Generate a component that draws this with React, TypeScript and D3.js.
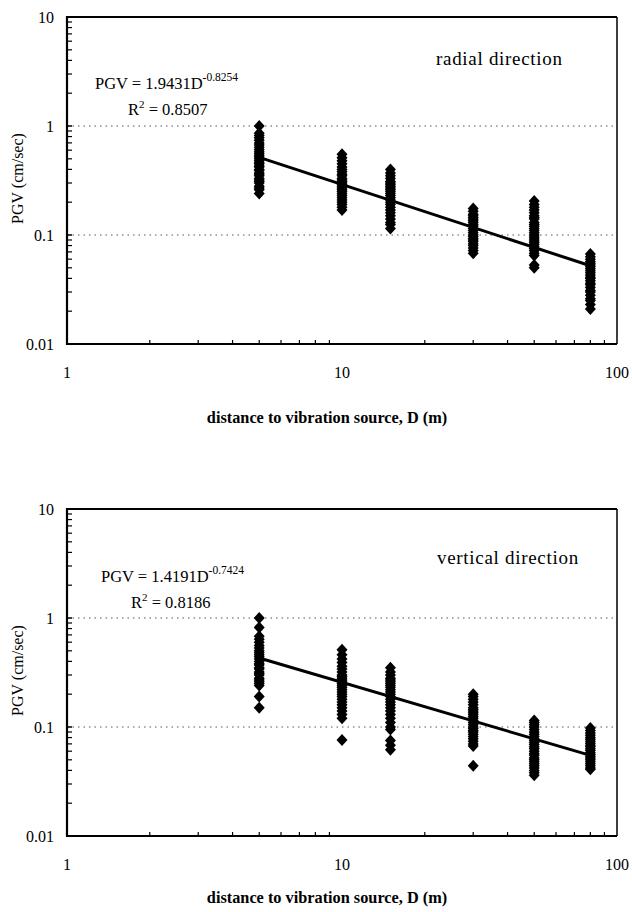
import React from "react";
import * as d3 from "d3";

// ---------- data ----------
const distances = [5, 10, 15, 30, 50, 80];

const radial5 = [1.0, 0.86, 0.82, 0.78, 0.74, 0.7, 0.67, 0.64, 0.61, 0.58, 0.56, 0.54, 0.52, 0.5, 0.48, 0.46, 0.45, 0.43, 0.42, 0.4, 0.39, 0.37, 0.36, 0.35, 0.33, 0.32, 0.31, 0.3, 0.28, 0.27, 0.26, 0.24];
const radial10 = [0.55, 0.51, 0.48, 0.45, 0.42, 0.4, 0.38, 0.36, 0.35, 0.33, 0.32, 0.31, 0.3, 0.29, 0.28, 0.27, 0.26, 0.25, 0.24, 0.23, 0.22, 0.21, 0.2, 0.19, 0.18, 0.17];
const radial15 = [0.4, 0.37, 0.35, 0.33, 0.31, 0.3, 0.29, 0.28, 0.27, 0.26, 0.25, 0.24, 0.23, 0.22, 0.21, 0.2, 0.19, 0.18, 0.17, 0.16, 0.15, 0.14, 0.13, 0.125, 0.115];
const radial30 = [0.175, 0.165, 0.155, 0.15, 0.145, 0.14, 0.135, 0.13, 0.125, 0.12, 0.115, 0.11, 0.105, 0.1, 0.097, 0.093, 0.09, 0.087, 0.083, 0.08, 0.076, 0.072, 0.068];
const radial50 = [0.205, 0.19, 0.18, 0.17, 0.16, 0.15, 0.145, 0.14, 0.13, 0.125, 0.12, 0.115, 0.11, 0.105, 0.1, 0.096, 0.092, 0.088, 0.085, 0.082, 0.078, 0.075, 0.072, 0.068, 0.065, 0.053, 0.05];
const radial80 = [0.067, 0.063, 0.06, 0.057, 0.055, 0.053, 0.051, 0.049, 0.047, 0.045, 0.043, 0.041, 0.04, 0.038, 0.036, 0.035, 0.033, 0.031, 0.03, 0.028, 0.026, 0.025, 0.023, 0.021];

const vertical5 = [1.0, 0.82, 0.68, 0.64, 0.6, 0.56, 0.53, 0.5, 0.48, 0.46, 0.44, 0.42, 0.4, 0.38, 0.37, 0.35, 0.34, 0.32, 0.31, 0.3, 0.28, 0.27, 0.26, 0.25, 0.24, 0.19, 0.15];
const vertical10 = [0.51, 0.46, 0.42, 0.39, 0.36, 0.34, 0.32, 0.3, 0.29, 0.28, 0.27, 0.26, 0.25, 0.24, 0.23, 0.22, 0.21, 0.2, 0.19, 0.18, 0.17, 0.16, 0.15, 0.14, 0.13, 0.12, 0.076];
const vertical15 = [0.35, 0.32, 0.3, 0.28, 0.27, 0.26, 0.25, 0.24, 0.23, 0.22, 0.21, 0.2, 0.19, 0.18, 0.17, 0.16, 0.15, 0.14, 0.13, 0.12, 0.11, 0.1, 0.095, 0.075, 0.068, 0.062];
const vertical30 = [0.2, 0.19, 0.18, 0.17, 0.16, 0.15, 0.145, 0.14, 0.135, 0.13, 0.125, 0.12, 0.115, 0.11, 0.105, 0.1, 0.097, 0.093, 0.09, 0.086, 0.082, 0.078, 0.074, 0.07, 0.067, 0.044];
const vertical50 = [0.115, 0.11, 0.105, 0.1, 0.095, 0.09, 0.086, 0.082, 0.078, 0.075, 0.072, 0.069, 0.066, 0.063, 0.06, 0.057, 0.055, 0.052, 0.05, 0.048, 0.046, 0.044, 0.042, 0.04, 0.038, 0.036];
const vertical80 = [0.098, 0.093, 0.088, 0.084, 0.08, 0.077, 0.074, 0.071, 0.068, 0.066, 0.063, 0.061, 0.058, 0.056, 0.054, 0.052, 0.05, 0.048, 0.046, 0.044, 0.042, 0.041];

const radialGroups = [radial5, radial10, radial15, radial30, radial50, radial80];
const verticalGroups = [vertical5, vertical10, vertical15, vertical30, vertical50, vertical80];

const radialFit = { a: 1.9431, b: -0.8254, r2: "0.8507", coef: "1.9431", exp: "-0.8254" };
const verticalFit = { a: 1.4191, b: -0.7424, r2: "0.8186", coef: "1.4191", exp: "-0.7424" };

const xTicks = [1, 10, 100];
const yTicks = [10, 1, 0.1, 0.01];
const gridValues = [1, 0.1];
const yTickLabels = ["10", "1", "0.1", "0.01"];
const xTickLabels = ["1", "10", "100"];

// ---------- layout ----------
const W = 632;
const H = 912;
const X0 = 67;
const X1 = 617;
const FONT = "'Liberation Serif', 'DejaVu Serif', serif";

const xScale = d3.scaleLog().domain([1, 100]).range([X0, X1]);

type PanelProps = {
  top: number;
  bottom: number;
  groups: number[][];
  fit: { a: number; b: number; r2: string; coef: string; exp: string };
  label: string;
  eqX: number;
  eqY: number;
  r2X: number;
  r2Y: number;
  labelX: number;
  labelY: number;
  xTickY: number;
  titleY: number;
};

const diamond = "M0,-6 L5.5,0 L0,6 L-5.5,0 Z";

function Panel(p: PanelProps) {
  const y = d3.scaleLog().domain([0.01, 10]).range([p.bottom, p.top]);
  const minorY: number[] = [];
  [0.01, 0.1, 1].forEach((d) => {
    for (let k = 2; k <= 9; k++) minorY.push(d * k);
  });
  const minorX: number[] = [];
  [1, 10].forEach((d) => {
    for (let k = 2; k <= 9; k++) minorX.push(d * k);
  });
  const fitLine = d3
    .line<number>()
    .x((d) => xScale(d))
    .y((d) => y(p.fit.a * Math.pow(d, p.fit.b)));
  const xFit = [distances[0], distances[distances.length - 1]];
  const midY = (p.top + p.bottom) / 2;
  return (
    <g>
      {gridValues.map((g) => (
        <line
          key={"g" + g}
          x1={X0}
          x2={X1}
          y1={y(g)}
          y2={y(g)}
          stroke="#555"
          strokeWidth={1}
          strokeDasharray="1.5 4"
        />
      ))}
      {minorY.map((v) => (
        <line key={"my" + v} x1={X0} x2={X0 + 5} y1={y(v)} y2={y(v)} stroke="#000" strokeWidth={1.2} />
      ))}
      {minorX.map((v) => (
        <line key={"mx" + v} x1={xScale(v)} x2={xScale(v)} y1={p.bottom} y2={p.bottom - 4} stroke="#000" strokeWidth={1.2} />
      ))}
      {yTicks.map((v) => (
        <line key={"ty" + v} x1={X0} x2={X0 + 5} y1={y(v)} y2={y(v)} stroke="#000" strokeWidth={1.5} />
      ))}
      <line x1={X0} x2={X1} y1={p.top} y2={p.top} stroke="#000" strokeWidth={1.8} />
      <line x1={X1} x2={X1} y1={p.top} y2={p.bottom} stroke="#000" strokeWidth={1.5} />
      <line x1={X0} x2={X0} y1={p.top - 1} y2={p.bottom + 1} stroke="#000" strokeWidth={2.2} />
      <line x1={X0 - 1} x2={X1} y1={p.bottom} y2={p.bottom} stroke="#000" strokeWidth={2.2} />
      {p.groups.map((grp, i) =>
        grp.map((v, j) => (
          <path
            key={"p" + i + "_" + j}
            d={diamond}
            transform={`translate(${xScale(distances[i])},${y(v)})`}
            fill="#000"
          />
        ))
      )}
      <path d={fitLine(xFit) || ""} stroke="#000" strokeWidth={3} fill="none" />
      {yTicks.map((v, i) => (
        <text key={"yl" + v} x={54} y={y(v) + 5.5} textAnchor="end" fontSize={16} fontFamily={FONT}>
          {yTickLabels[i]}
        </text>
      ))}
      {xTicks.map((v, i) => (
        <text key={"xl" + v} x={xScale(v)} y={p.xTickY} textAnchor="middle" fontSize={16} fontFamily={FONT}>
          {xTickLabels[i]}
        </text>
      ))}
      <text
        x={0}
        y={0}
        transform={`translate(23,${midY - 2}) rotate(-90)`}
        textAnchor="middle"
        fontSize={16}
        fontFamily={FONT}
      >
        PGV (cm/sec)
      </text>
      <text x={327} y={p.titleY} textAnchor="middle" fontSize={16.3} fontWeight="bold" fontFamily={FONT}>
        distance to vibration source, D (m)
      </text>
      <text x={p.eqX} y={p.eqY} fontSize={16.5} fontFamily={FONT}>
        {"PGV = " + p.fit.coef + "D"}
        <tspan fontSize={11.5} dy={-8}>{p.fit.exp}</tspan>
      </text>
      <text x={p.r2X} y={p.r2Y} fontSize={16.5} fontFamily={FONT}>
        R<tspan fontSize={11} dy={-7}>2</tspan>
        <tspan dy={7}>{" = " + p.fit.r2}</tspan>
      </text>
      <text x={p.labelX} y={p.labelY} fontSize={19} letterSpacing={0.7} fontFamily={FONT}>
        {p.label}
      </text>
    </g>
  );
}

export default function App() {
  return (
    <svg
      width={W}
      height={H}
      style={{ position: "absolute", left: 0, top: 0, background: "#fff" }}
    >
      <rect width={W} height={H} fill="#fff" />
      <Panel
        top={17}
        bottom={344}
        groups={radialGroups}
        fit={radialFit}
        label="radial direction"
        eqX={95}
        eqY={89}
        r2X={128}
        r2Y={115}
        labelX={436}
        labelY={65}
        xTickY={378}
        titleY={423}
      />
      <Panel
        top={509}
        bottom={836}
        groups={verticalGroups}
        fit={verticalFit}
        label="vertical direction"
        eqX={101}
        eqY={582}
        r2X={131}
        r2Y={608}
        labelX={437}
        labelY={564}
        xTickY={870}
        titleY={903}
      />
    </svg>
  );
}
